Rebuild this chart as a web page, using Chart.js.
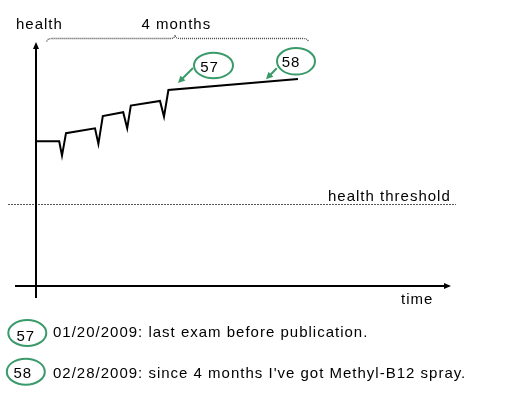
<!DOCTYPE html>
<html>
<head>
<meta charset="utf-8">
<script src="https://cdn.jsdelivr.net/npm/chart.js@4.4.1/dist/chart.umd.min.js"></script>
<style>
  html, body { margin: 0; padding: 0; background: #fff; }
  #wrap { width: 522px; height: 397px; }
</style>
</head>
<body>
<div id="wrap"><canvas id="c" width="522" height="397"></canvas></div>
<script>
// ---- data ----
const timeDays     = [0, 11.6, 13, 15, 29.5, 31.2, 33.4, 43.6, 45.6, 47.4, 62, 64, 66.2, 131];
const healthValues = [59.3, 59.3, 53.4, 62.6, 64.6, 58.2, 69.6, 71.2, 64.6, 73.9, 75.8, 69.4, 80.3, 84.8];
const thresholdDays  = [-14, 210];
const thresholdValue = 33.35;
const axisLabels = { y: 'health', x: 'time', span: '4 months', threshold: 'health threshold' };
const braceDays  = [5.5, 136];
const noteIds    = ['57', '58'];
const noteDays   = [71, 115];
const noteHealth = [83.2, 84.7];
const noteTexts  = ['01/20/2009: last exam before publication.',
                    "02/28/2009: since 4 months I've got Methyl-B12 spray."];

const FONT = '15px "Liberation Sans", Arial, sans-serif';
const GREEN = '#3a9a6a';

function txt(ctx, s, x, y, align) {
  ctx.save();
  ctx.font = FONT;
  ctx.fillStyle = '#000';
  ctx.textBaseline = 'alphabetic';
  try { ctx.letterSpacing = '1px'; } catch (e) {}
  let w = ctx.measureText(s).width;
  let left = x;
  if (align === 'center') left = x - w / 2;
  ctx.textAlign = 'left';
  ctx.fillText(s, left, y);
  ctx.restore();
}
function arrowHead(ctx, tx, ty, fx, fy, len, half, color) {
  const a = Math.atan2(ty - fy, tx - fx);
  ctx.save();
  ctx.fillStyle = color;
  ctx.beginPath();
  ctx.moveTo(tx, ty);
  ctx.lineTo(tx - len * Math.cos(a) + half * Math.sin(a), ty - len * Math.sin(a) - half * Math.cos(a));
  ctx.lineTo(tx - len * Math.cos(a) - half * Math.sin(a), ty - len * Math.sin(a) + half * Math.cos(a));
  ctx.closePath();
  ctx.fill();
  ctx.restore();
}
function ellipse(ctx, cx, cy, rx, ry) {
  ctx.save();
  ctx.strokeStyle = GREEN;
  ctx.lineWidth = 2;
  ctx.beginPath();
  ctx.ellipse(cx, cy, rx, ry, 0, 0, Math.PI * 2);
  ctx.stroke();
  ctx.restore();
}

const decor = {
  id: 'decor',
  afterDatasetsDraw(chart) {
    const ctx = chart.ctx;
    const xs = chart.scales.x, ys = chart.scales.y;
    const X = v => xs.getPixelForValue(v), Y = v => ys.getPixelForValue(v);
    const x0 = Math.round(X(0)), y0 = Math.round(Y(0));

    ctx.save();
    ctx.strokeStyle = '#000';
    ctx.lineWidth = 2;
    // y axis
    ctx.beginPath();
    ctx.moveTo(x0, ys.bottom);
    ctx.lineTo(x0, ys.top + 5);
    ctx.stroke();
    arrowHead(ctx, x0, ys.top, x0, ys.top + 10, 7, 3, '#000');
    // x axis
    ctx.beginPath();
    ctx.moveTo(X(-10.5), y0);
    ctx.lineTo(X(207.5) - 5, y0);
    ctx.stroke();
    arrowHead(ctx, X(207.5), y0, X(207.5) - 10, y0, 7, 3, '#000');
    ctx.restore();

    // brace
    const bl = X(braceDays[0]), br = X(braceDays[1]), bm = 175, by = 38.5;
    ctx.save();
    ctx.strokeStyle = '#444';
    ctx.lineWidth = 1.3;
    ctx.setLineDash([1, 1]);
    ctx.beginPath();
    ctx.moveTo(bl, by + 3);
    ctx.quadraticCurveTo(bl, by, bl + 5, by);
    ctx.lineTo(bm - 5, by);
    ctx.quadraticCurveTo(bm, by, bm, by - 3.5);
    ctx.quadraticCurveTo(bm, by, bm + 5, by);
    ctx.lineTo(br - 5, by);
    ctx.quadraticCurveTo(br, by, br, by + 3);
    ctx.stroke();
    ctx.restore();

    // texts
    txt(ctx, axisLabels.y, 16, 29);
    txt(ctx, axisLabels.span, 141.5, 29);
    txt(ctx, axisLabels.threshold, 328, 200.5);
    txt(ctx, axisLabels.x, 401, 303.5);

    // annotation callouts
    const ell = [[35.5, -17.5, 19.5, 12.8, -4, 1], [30, -18, 19, 13.3, -5, 0]];
    const from = [[15, -15], [10.7, -11]];
    for (let i = 0; i < noteIds.length; i++) {
      const tx = X(noteDays[i]), ty = Y(noteHealth[i]);
      const fx = tx + from[i][0], fy = ty + from[i][1];
      ctx.save();
      ctx.strokeStyle = GREEN;
      ctx.lineWidth = 2;
      ctx.beginPath();
      ctx.moveTo(fx, fy);
      ctx.lineTo(tx + 3, ty - 3);
      ctx.stroke();
      ctx.restore();
      arrowHead(ctx, tx, ty, fx, fy, 7, 3.5, GREEN);
      const e = ell[i];
      const cx = tx + e[0], cy = ty + e[1];
      ellipse(ctx, cx, cy, e[2], e[3]);
      txt(ctx, noteIds[i], cx + e[4], cy + 6 + e[5], 'center');
    }

    // legend of notes
    const leg = [[27.3, 333, 336.5, -1.5, 3], [25.8, 371.7, 378, -3, 6]];
    for (let i = 0; i < noteIds.length; i++) {
      const l = leg[i];
      ellipse(ctx, l[0], l[1], 19, 13);
      txt(ctx, noteIds[i], l[0] + l[3], l[1] + 6 + (i === 0 ? 2 : 0), 'center');
      txt(ctx, noteTexts[i], 53, l[2]);
    }
  }
};

new Chart(document.getElementById('c'), {
  type: 'line',
  data: {
    datasets: [
      {
        label: 'health',
        data: timeDays.map((d, i) => ({ x: d, y: healthValues[i] })),
        borderColor: '#000',
        borderWidth: 2,
        pointRadius: 0,
        tension: 0,
        fill: false
      },
      {
        label: 'threshold',
        data: thresholdDays.map(d => ({ x: d, y: thresholdValue })),
        borderColor: '#555',
        borderWidth: 1,
        borderDash: [2, 1],
        pointRadius: 0,
        fill: false
      }
    ]
  },
  options: {
    responsive: false,
    animation: false,
    devicePixelRatio: 1,
    layout: { padding: { left: 8, right: 66, top: 42, bottom: 99 } },
    scales: {
      x: { type: 'linear', min: -14, max: 210, display: false },
      y: { type: 'linear', min: -5, max: 100, display: false }
    },
    plugins: { legend: { display: false }, tooltip: { enabled: false } }
  },
  plugins: [decor]
});
</script>
</body>
</html>
